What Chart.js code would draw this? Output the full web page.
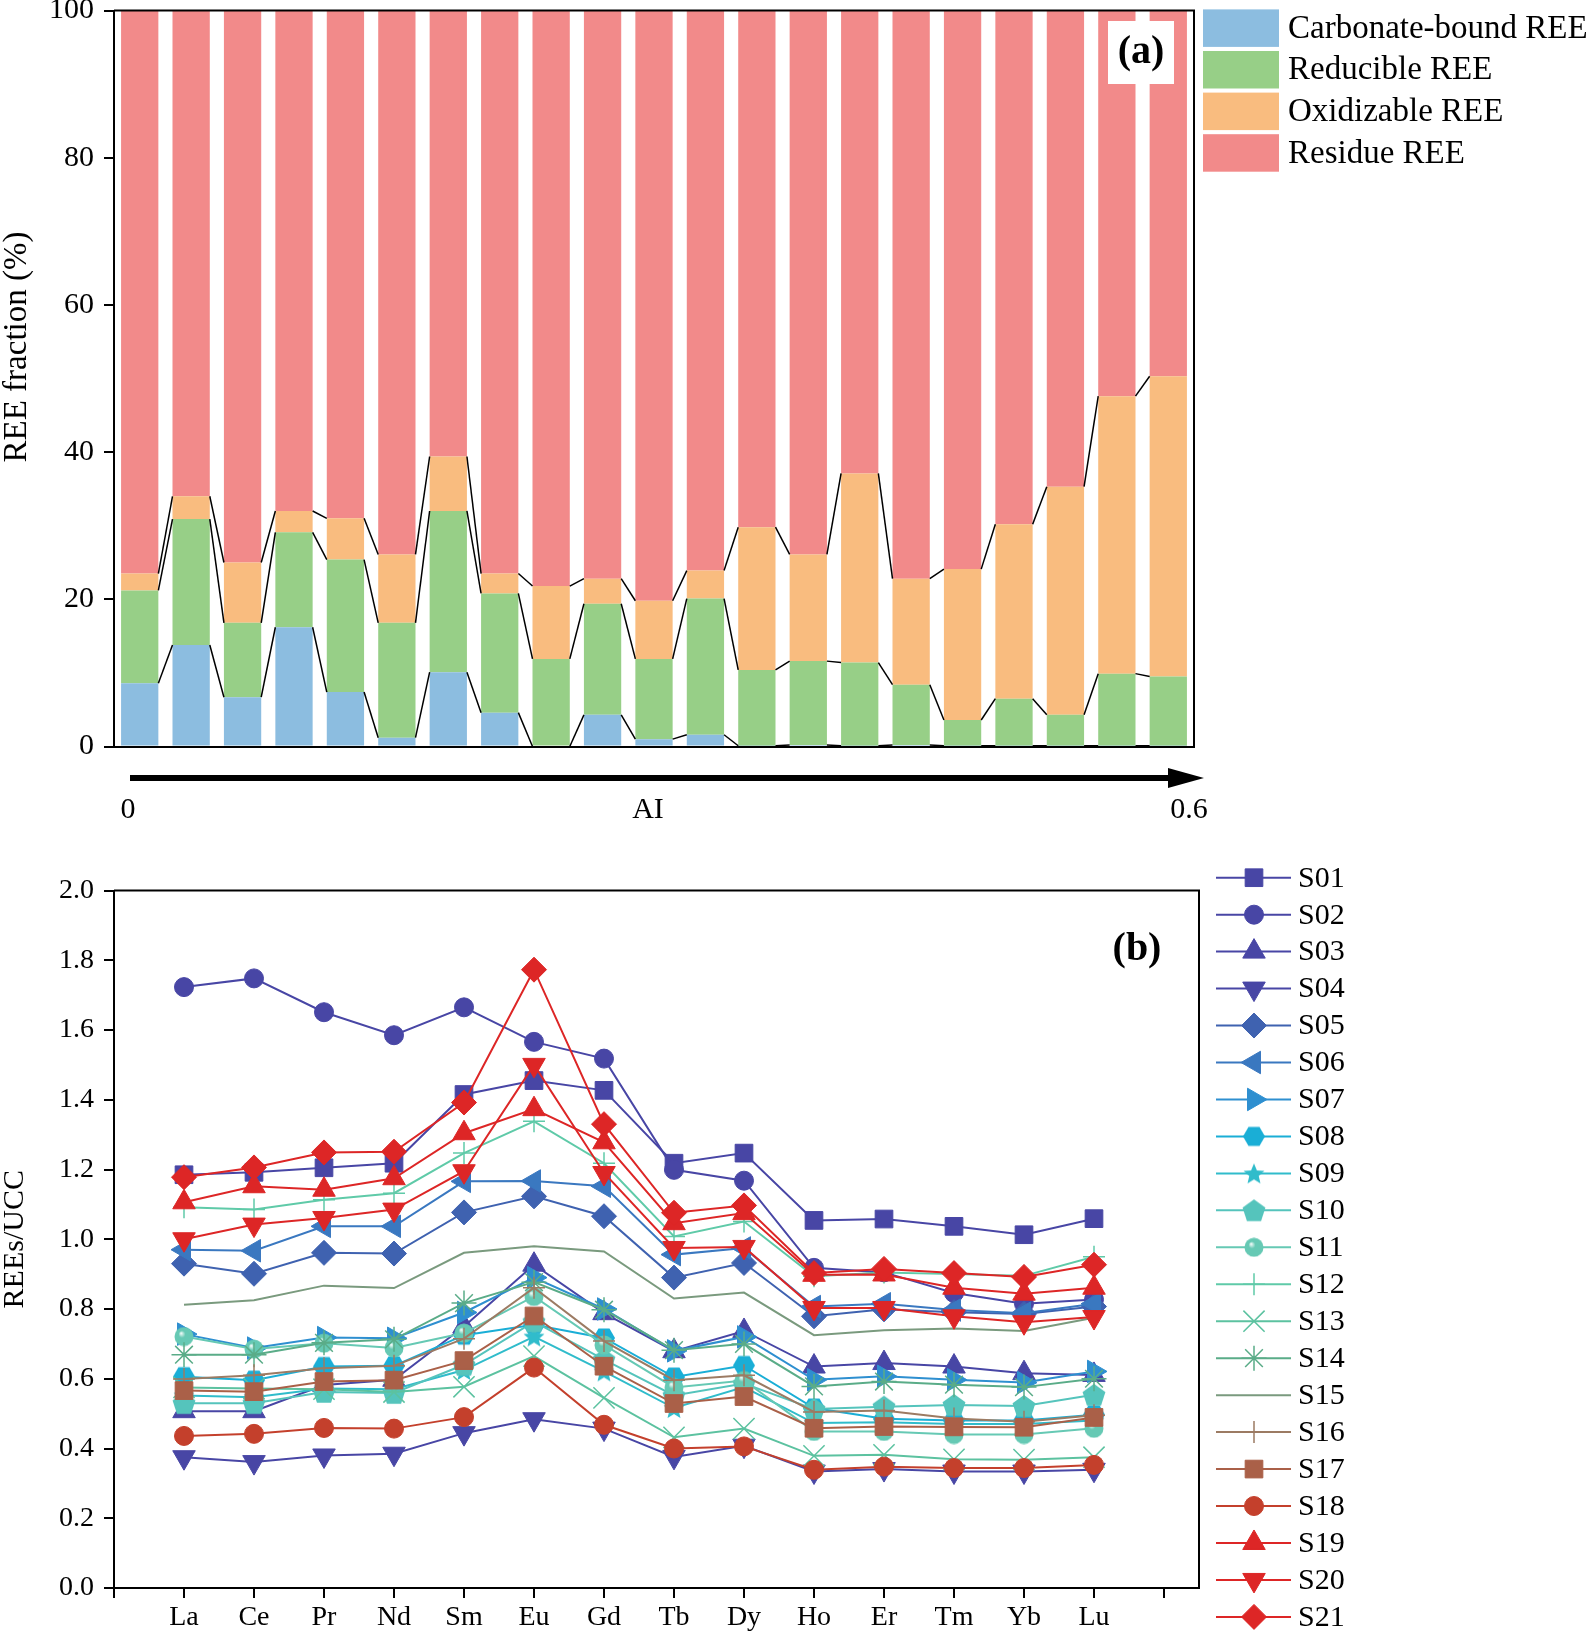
<!DOCTYPE html>
<html>
<head>
<meta charset="utf-8">
<style>
  html, body { margin: 0; padding: 0; background: #fff; }
  body { width: 1594px; height: 1632px; position: relative; overflow: hidden; }
  #chartA { position: absolute; left: 0; top: 0; }
  #chartB { position: absolute; left: 0; top: 840px; }
</style>
<script src="https://cdn.jsdelivr.net/npm/chart.js@4"></script>
</head>
<body>
<canvas id="chartA" width="1594" height="840"></canvas>
<canvas id="chartB" width="1594" height="792"></canvas>
<script>
// ---- panel (a): REE fractions (%) for 21 samples ordered by AI ----
const barSamples = ["1", "2", "3", "4", "5", "6", "7", "8", "9", "10", "11", "12", "13", "14", "15", "16", "17", "18", "19", "20", "21"];
const fractionNames = ["Carbonate-bound REE", "Reducible REE", "Oxidizable REE", "Residue REE"];
const carbonate = [8.6, 13.8, 6.7, 16.2, 7.4, 1.2, 10.1, 4.6, 0, 4.3, 1.0, 1.6, 0.1, 0.2, 0.1, 0.2, 0.1, 0.1, 0.1, 0.1, 0.1];
const reducible = [12.6, 17.1, 10.1, 12.9, 18.0, 15.6, 21.9, 16.2, 11.9, 15.1, 10.9, 18.5, 10.3, 11.4, 11.3, 8.2, 3.5, 6.4, 4.2, 9.8, 9.4];
const oxidizable = [2.3, 3.1, 8.2, 2.9, 5.6, 9.3, 7.4, 2.7, 9.9, 3.4, 7.9, 3.8, 19.4, 14.5, 25.7, 14.4, 20.5, 23.7, 31.0, 37.7, 40.8];
const residue = [76.5, 66.0, 75.0, 68.0, 69.0, 73.9, 60.6, 76.5, 78.2, 77.2, 80.2, 76.1, 70.2, 73.9, 62.9, 77.2, 75.9, 69.8, 64.7, 52.4, 49.7];
const fracTicks = [0, 20, 40, 60, 80, 100];

// ---- panel (b): UCC-normalised REE patterns ----
const elements = ["La", "Ce", "Pr", "Nd", "Sm", "Eu", "Gd", "Tb", "Dy", "Ho", "Er", "Tm", "Yb", "Lu"];
const S01 = [1.185, 1.192, 1.205, 1.218, 1.415, 1.455, 1.427, 1.218, 1.247, 1.054, 1.058, 1.037, 1.013, 1.059];
const S02 = [1.723, 1.748, 1.651, 1.585, 1.665, 1.566, 1.518, 1.199, 1.168, 0.918, 0.905, 0.846, 0.815, 0.827];
const S03 = [0.507, 0.507, 0.582, 0.597, 0.750, 0.927, 0.788, 0.679, 0.737, 0.635, 0.645, 0.635, 0.616, 0.611];
const S04 = [0.375, 0.361, 0.380, 0.385, 0.444, 0.484, 0.457, 0.376, 0.408, 0.334, 0.341, 0.334, 0.334, 0.339];
const S05 = [0.930, 0.901, 0.961, 0.959, 1.077, 1.123, 1.066, 0.890, 0.932, 0.779, 0.799, 0.791, 0.786, 0.807];
const S06 = [0.970, 0.967, 1.037, 1.037, 1.166, 1.167, 1.152, 0.956, 0.975, 0.807, 0.815, 0.797, 0.788, 0.815];
const S07 = [0.728, 0.688, 0.718, 0.716, 0.790, 0.890, 0.800, 0.680, 0.720, 0.597, 0.607, 0.597, 0.589, 0.621];
const S08 = [0.606, 0.596, 0.635, 0.637, 0.725, 0.755, 0.717, 0.605, 0.638, 0.516, 0.485, 0.480, 0.480, 0.497];
const S09 = [0.552, 0.547, 0.572, 0.570, 0.625, 0.721, 0.621, 0.516, 0.576, 0.473, 0.475, 0.470, 0.470, 0.480];
const S10 = [0.530, 0.530, 0.562, 0.559, 0.640, 0.764, 0.655, 0.552, 0.586, 0.513, 0.520, 0.525, 0.522, 0.554];
const S11 = [0.721, 0.685, 0.702, 0.688, 0.731, 0.836, 0.697, 0.575, 0.595, 0.449, 0.449, 0.440, 0.440, 0.458];
const S12 = [1.092, 1.085, 1.113, 1.132, 1.247, 1.338, 1.218, 1.008, 1.051, 0.894, 0.905, 0.900, 0.895, 0.950];
const S13 = [0.575, 0.572, 0.570, 0.562, 0.577, 0.665, 0.545, 0.432, 0.457, 0.379, 0.382, 0.369, 0.368, 0.375];
const S14 = [0.669, 0.669, 0.703, 0.713, 0.817, 0.877, 0.798, 0.682, 0.700, 0.578, 0.592, 0.583, 0.576, 0.600];
const S15 = [0.812, 0.825, 0.867, 0.860, 0.961, 0.980, 0.965, 0.830, 0.847, 0.725, 0.739, 0.744, 0.737, 0.775];
const S16 = [0.599, 0.610, 0.630, 0.637, 0.715, 0.861, 0.708, 0.596, 0.610, 0.505, 0.509, 0.486, 0.477, 0.495];
const S17 = [0.566, 0.563, 0.592, 0.596, 0.652, 0.780, 0.636, 0.529, 0.549, 0.458, 0.463, 0.462, 0.461, 0.489];
const S18 = [0.436, 0.442, 0.459, 0.457, 0.490, 0.632, 0.468, 0.400, 0.406, 0.339, 0.348, 0.344, 0.344, 0.353];
const S19 = [1.106, 1.152, 1.142, 1.175, 1.304, 1.373, 1.278, 1.046, 1.075, 0.898, 0.899, 0.861, 0.844, 0.861];
const S20 = [1.000, 1.042, 1.061, 1.085, 1.195, 1.500, 1.190, 0.975, 0.978, 0.803, 0.803, 0.779, 0.762, 0.777];
const S21 = [1.178, 1.206, 1.249, 1.251, 1.392, 1.773, 1.330, 1.076, 1.097, 0.903, 0.915, 0.903, 0.892, 0.927];
const sampleNames = ["S01", "S02", "S03", "S04", "S05", "S06", "S07", "S08", "S09", "S10", "S11", "S12", "S13", "S14", "S15", "S16", "S17", "S18", "S19", "S20", "S21"];
const sampleValues = [S01, S02, S03, S04, S05, S06, S07, S08, S09, S10, S11, S12, S13, S14, S15, S16, S17, S18, S19, S20, S21];

// styles
const fracColors = ["#8cbde0", "#97cf87", "#f9bc7f", "#f28a8a"];
const lineColors = ["#4846a5", "#4846a5", "#4846a5", "#4846a5", "#3f62b0", "#3a78c0", "#2e8fd0", "#1aaed6", "#30bccb", "#55c4bc", "#66c9b4", "#5fcaa8", "#5cc2a0", "#5aac88", "#7a9a7e", "#9c7b63", "#aa6048", "#c4402c", "#dd2626", "#dd2626", "#dd2626"];
const markerKinds = ["square", "circle", "up", "down", "diamond", "left", "right", "hexagon", "star5", "pentagon", "sphere", "plus", "x", "asterisk", "none", "plus", "square", "circle", "up", "down", "diamond"];

Chart.defaults.font.family = '"Liberation Serif", "Times New Roman", serif';
Chart.defaults.color = "#000";

function shapeCanvas(kind, color, size) {
  const c = document.createElement("canvas");
  c.width = size;
  c.height = size;
  const g = c.getContext("2d");
  const r = size / 2;
  g.fillStyle = color;
  g.beginPath();
  if (kind === "hexagon") {
    for (let k = 0; k < 6; k++) {
      const a = (k * Math.PI) / 3;
      g.lineTo(r + r * Math.cos(a), r + r * Math.sin(a));
    }
  } else if (kind === "pentagon") {
    for (let k = 0; k < 5; k++) {
      const a = -Math.PI / 2 + (k * 2 * Math.PI) / 5;
      g.lineTo(r + r * Math.cos(a), r + 1 + r * Math.sin(a));
    }
  } else if (kind === "star5") {
    for (let k = 0; k < 10; k++) {
      const a = -Math.PI / 2 + (k * Math.PI) / 5;
      const rr = k % 2 === 0 ? r : r * 0.45;
      g.lineTo(r + rr * Math.cos(a), r + 1 + rr * Math.sin(a));
    }
  } else if (kind === "sphere") {
    const grad = g.createRadialGradient(r * 0.7, r * 0.65, 0, r, r, r);
    grad.addColorStop(0, "#ffffff");
    grad.addColorStop(0.35, color);
    grad.addColorStop(1, color);
    g.fillStyle = grad;
    g.arc(r, r, r - 0.5, 0, Math.PI * 2);
  }
  g.closePath();
  g.fill();
  return c;
}

function markerStyle(kind, color) {
  switch (kind) {
    case "square": return { pointStyle: "rect", radius: 12.5, rotation: 0, borderWidth: 1 };
    case "circle": return { pointStyle: "circle", radius: 9.5, rotation: 0, borderWidth: 1 };
    case "up": return { pointStyle: "triangle", radius: 13, rotation: 0, borderWidth: 1 };
    case "down": return { pointStyle: "triangle", radius: 13, rotation: 180, borderWidth: 1 };
    case "left": return { pointStyle: "triangle", radius: 13, rotation: 270, borderWidth: 1 };
    case "right": return { pointStyle: "triangle", radius: 13, rotation: 90, borderWidth: 1 };
    case "diamond": return { pointStyle: "rectRot", radius: 12.5, rotation: 0, borderWidth: 1 };
    case "hexagon": return { pointStyle: shapeCanvas("hexagon", color, 22), radius: 10, rotation: 0, borderWidth: 1 };
    case "star5": return { pointStyle: shapeCanvas("star5", color, 22), radius: 10, rotation: 0, borderWidth: 1 };
    case "pentagon": return { pointStyle: shapeCanvas("pentagon", color, 24), radius: 10, rotation: 0, borderWidth: 1 };
    case "sphere": return { pointStyle: shapeCanvas("sphere", color, 20), radius: 10, rotation: 0, borderWidth: 1 };
    case "plus": return { pointStyle: "cross", radius: 11, rotation: 0, borderWidth: 1.5 };
    case "x": return { pointStyle: "crossRot", radius: 15, rotation: 0, borderWidth: 1.5 };
    case "asterisk": return { pointStyle: "star", radius: 12.5, rotation: 0, borderWidth: 1.5 };
    default: return { pointStyle: "circle", radius: 0, rotation: 0, borderWidth: 0 };
  }
}

// box around plot area (top and right edges)
const frame = {
  id: "frame",
  afterDraw(chart) {
    const { ctx, chartArea: a } = chart;
    ctx.save();
    ctx.strokeStyle = "#000";
    ctx.lineWidth = 2;
    ctx.beginPath();
    ctx.moveTo(a.left, a.top);
    ctx.lineTo(a.right, a.top);
    ctx.lineTo(a.right, a.bottom);
    ctx.stroke();
    ctx.restore();
  },
};

// thin black lines joining the fraction boundaries of neighbouring bars
const connectors = {
  id: "connectors",
  afterDatasetsDraw(chart) {
    const ctx = chart.ctx;
    ctx.save();
    ctx.strokeStyle = "#000";
    ctx.lineWidth = 1.5;
    for (let d = 0; d < 3; d++) {
      const bars = chart.getDatasetMeta(d).data;
      for (let i = 0; i < bars.length - 1; i++) {
        const a = bars[i];
        const b = bars[i + 1];
        ctx.beginPath();
        ctx.moveTo(a.x + a.width / 2, a.y);
        ctx.lineTo(b.x - b.width / 2, b.y);
        ctx.stroke();
      }
    }
    ctx.restore();
  },
};

const panelAExtras = {
  id: "panelAExtras",
  afterDraw(chart) {
    const ctx = chart.ctx;
    ctx.save();
    // y title
    ctx.save();
    ctx.translate(17, 347);
    ctx.rotate(-Math.PI / 2);
    ctx.font = '33px "Liberation Serif", serif';
    ctx.fillStyle = "#000";
    ctx.textAlign = "center";
    ctx.textBaseline = "middle";
    ctx.fillText("REE fraction (%)", 0, 0);
    ctx.restore();

    // AI arrow
    ctx.fillStyle = "#000";
    ctx.strokeStyle = "#000";
    ctx.lineWidth = 6;
    ctx.beginPath();
    ctx.moveTo(130, 778);
    ctx.lineTo(1175, 778);
    ctx.stroke();
    ctx.beginPath();
    ctx.moveTo(1204, 778);
    ctx.lineTo(1168, 768);
    ctx.lineTo(1168, 788);
    ctx.closePath();
    ctx.fill();
    ctx.font = '30px "Liberation Serif", serif';
    ctx.textAlign = "center";
    ctx.textBaseline = "middle";
    ctx.fillText("0", 128, 810);
    ctx.fillText("AI", 648, 810);
    ctx.fillText("0.6", 1189, 810);

    // panel label
    ctx.fillStyle = "#fff";
    ctx.fillRect(1108, 21, 66, 63);
    ctx.fillStyle = "#000";
    ctx.font = 'bold 40px "Liberation Serif", serif';
    ctx.fillText("(a)", 1141, 53);

    // legend
    ctx.font = '33px "Liberation Serif", serif';
    ctx.textAlign = "left";
    chart.data.datasets.forEach((ds, k) => {
      const cy = 28.1 + k * 41.6;
      ctx.fillStyle = ds.backgroundColor;
      ctx.fillRect(1203, cy - 18.7, 76, 37.5);
      ctx.fillStyle = "#000";
      ctx.fillText(ds.label, 1288, cy + 1);
    });
    ctx.restore();
  },
};

const panelBExtras = {
  id: "panelBExtras",
  afterDraw(chart) {
    const ctx = chart.ctx;
    ctx.save();
    ctx.fillStyle = "#000";
    ctx.font = 'bold 40px "Liberation Serif", serif';
    ctx.textAlign = "center";
    ctx.textBaseline = "middle";
    ctx.fillText("(b)", 1137, 110);

    ctx.font = '30px "Liberation Serif", serif';
    ctx.textAlign = "left";
    chart.data.datasets.forEach((ds, k) => {
      const cy = 37.7 + k * 36.96;
      ctx.strokeStyle = ds.borderColor;
      ctx.lineWidth = 2;
      ctx.beginPath();
      ctx.moveTo(1216, cy);
      ctx.lineTo(1291, cy);
      ctx.stroke();
      if (ds.pointRadius > 0) {
        ctx.fillStyle = ds.borderColor;
        ctx.strokeStyle = ds.borderColor;
        ctx.lineWidth = ds.pointBorderWidth;
        Chart.helpers.drawPoint(ctx, {
          pointStyle: ds.pointStyle,
          rotation: ds.pointRotation,
          radius: ds.pointRadius,
          borderWidth: ds.pointBorderWidth,
        }, 1254, cy);
      }
      ctx.fillStyle = "#000";
      ctx.fillText(ds.label, 1298, cy + 1);
    });
    ctx.restore();
  },
};

// ---------- chart (a) ----------
const fractionSeries = [carbonate, reducible, oxidizable, residue];

new Chart(document.getElementById("chartA"), {
  type: "bar",
  data: {
    labels: barSamples,
    datasets: fractionSeries.map((values, k) => ({
      label: fractionNames[k],
      data: values,
      backgroundColor: fracColors[k],
      borderWidth: 0,
      barPercentage: 0.725,
      categoryPercentage: 1,
    })),
  },
  options: {
    responsive: false,
    animation: false,
    layout: { padding: { top: 10.5, right: 400, left: 0, bottom: 0 } },
    plugins: { legend: { display: false }, tooltip: { enabled: false } },
    scales: {
      x: {
        stacked: true,
        ticks: { display: false },
        grid: { display: false },
        border: { display: true, color: "#000", width: 2 },
        afterFit(scale) {
          scale.height = 840 - 746.5;
          scale.paddingLeft = 0;
          scale.paddingRight = 0;
        },
      },
      y: {
        stacked: true,
        min: 0,
        max: 100,
        afterBuildTicks(scale) {
          scale.ticks = fracTicks.map((v) => ({ value: v }));
        },
        ticks: { font: { size: 30 }, padding: 10 },
        grid: { drawOnChartArea: false, drawTicks: true, tickLength: 10, color: "#000", lineWidth: 2 },
        border: { display: true, color: "#000", width: 2 },
        afterFit(scale) {
          scale.width = 114;
          scale.paddingTop = 0;
          scale.paddingBottom = 0;
        },
      },
    },
  },
  plugins: [connectors, frame, panelAExtras],
});

// ---------- chart (b) ----------
new Chart(document.getElementById("chartB"), {
  type: "line",
  data: {
    datasets: sampleValues.map((values, i) => {
      const color = lineColors[i];
      const m = markerStyle(markerKinds[i], color);
      return {
        label: sampleNames[i],
        data: values.map((v, j) => ({ x: j + 1, y: v })),
        borderColor: color,
        backgroundColor: color,
        borderWidth: 2,
        tension: 0,
        pointStyle: m.pointStyle,
        pointRadius: m.radius,
        pointRotation: m.rotation,
        pointBackgroundColor: color,
        pointBorderColor: color,
        pointBorderWidth: m.borderWidth,
        order: sampleValues.length - i,
      };
    }),
  },
  options: {
    responsive: false,
    animation: false,
    layout: { padding: { top: 50.5, right: 395, left: 0, bottom: 0 } },
    plugins: { legend: { display: false }, tooltip: { enabled: false } },
    scales: {
      x: {
        type: "linear",
        min: 0,
        max: 15.5,
        ticks: {
          stepSize: 1,
          includeBounds: false,
          autoSkip: false,
          maxRotation: 0,
          font: { size: 28 },
          padding: 3,
          callback: (v) => (v >= 1 && v <= elements.length ? elements[v - 1] : ""),
        },
        grid: { drawOnChartArea: false, drawTicks: true, tickLength: 10, color: "#000", lineWidth: 2 },
        border: { display: true, color: "#000", width: 2 },
        afterFit(scale) {
          scale.height = 792 - 748;
          scale.paddingLeft = 0;
          scale.paddingRight = 0;
        },
      },
      y: {
        min: 0,
        max: 2,
        ticks: { stepSize: 0.2, font: { size: 28 }, padding: 10, callback: (v) => Number(v).toFixed(1) },
        grid: { drawOnChartArea: false, drawTicks: true, tickLength: 10, color: "#000", lineWidth: 2 },
        border: { display: true, color: "#000", width: 2 },
        title: { display: true, text: "REEs/UCC", font: { size: 30, lineHeight: 1 }, padding: 0 },
        afterFit(scale) {
          scale.width = 114;
          scale.paddingTop = 0;
          scale.paddingBottom = 0;
        },
      },
    },
  },
  plugins: [frame, panelBExtras],
});
</script>
</body>
</html>
